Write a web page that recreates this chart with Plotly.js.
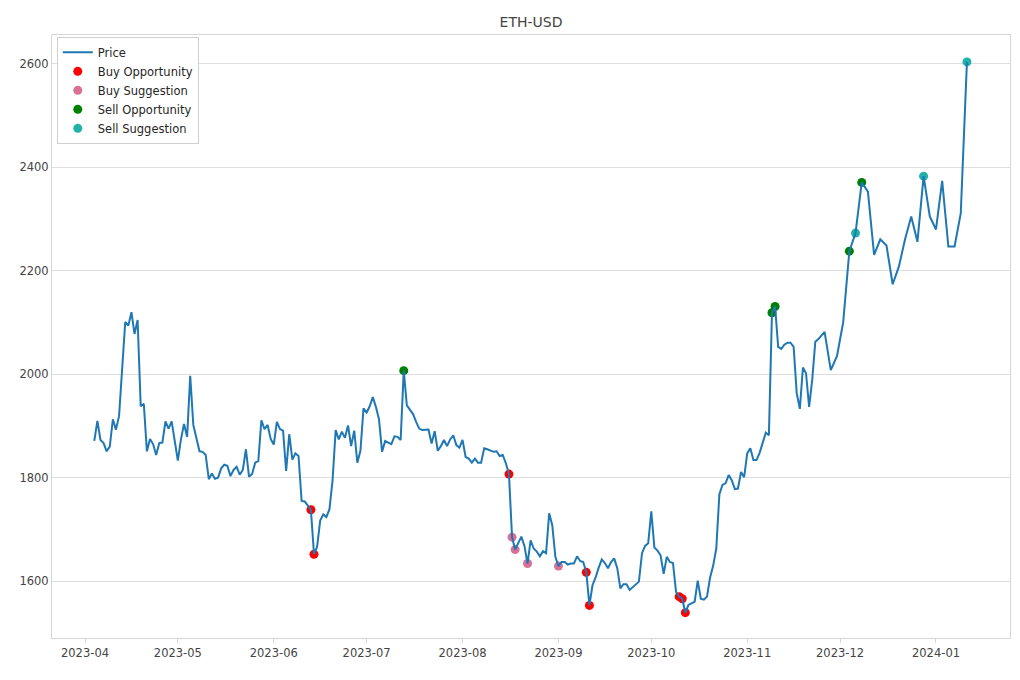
<!DOCTYPE html>
<html>
<head>
<meta charset="utf-8">
<script src="https://cdn.plot.ly/plotly-3.0.1.min.js"></script>
<style>
  html, body { margin: 0; padding: 0; background: #fff; }
  #chart { width: 1020px; height: 680px; }
</style>
</head>
<body>
<div id="chart"></div>
<script>
// ETH-USD close price
const dates = [
  '2023-04-04','2023-04-05','2023-04-06','2023-04-07','2023-04-08','2023-04-09','2023-04-10','2023-04-11','2023-04-12','2023-04-14','2023-04-15','2023-04-16','2023-04-17','2023-04-18','2023-04-19','2023-04-20','2023-04-21','2023-04-22','2023-04-23','2023-04-24','2023-04-25','2023-04-26','2023-04-27','2023-04-28','2023-04-29','2023-04-30',
  '2023-05-01','2023-05-02','2023-05-03','2023-05-04','2023-05-05','2023-05-06','2023-05-07','2023-05-08','2023-05-09','2023-05-10','2023-05-11','2023-05-12','2023-05-13','2023-05-14','2023-05-15','2023-05-16','2023-05-17','2023-05-18','2023-05-19','2023-05-20','2023-05-21','2023-05-22','2023-05-23','2023-05-24','2023-05-25','2023-05-26','2023-05-27','2023-05-28','2023-05-29','2023-05-30','2023-05-31',
  '2023-06-01','2023-06-02','2023-06-03','2023-06-04','2023-06-05','2023-06-06','2023-06-07','2023-06-08','2023-06-09','2023-06-10','2023-06-11','2023-06-12','2023-06-13','2023-06-14','2023-06-15','2023-06-16','2023-06-17','2023-06-18','2023-06-19','2023-06-20','2023-06-21','2023-06-22','2023-06-23','2023-06-24','2023-06-25','2023-06-26','2023-06-27','2023-06-28','2023-06-29','2023-06-30',
  '2023-07-01','2023-07-02','2023-07-03','2023-07-04','2023-07-05','2023-07-06','2023-07-07','2023-07-08','2023-07-09','2023-07-10','2023-07-11','2023-07-12','2023-07-13','2023-07-14','2023-07-15','2023-07-16','2023-07-17','2023-07-18','2023-07-19','2023-07-20','2023-07-21','2023-07-22','2023-07-23','2023-07-24','2023-07-25','2023-07-26','2023-07-27','2023-07-28','2023-07-29','2023-07-30','2023-07-31',
  '2023-08-01','2023-08-02','2023-08-03','2023-08-04','2023-08-05','2023-08-06','2023-08-07','2023-08-08','2023-08-09','2023-08-10','2023-08-11','2023-08-12','2023-08-13','2023-08-14','2023-08-15','2023-08-16','2023-08-17','2023-08-18','2023-08-19','2023-08-20','2023-08-21','2023-08-22','2023-08-23','2023-08-24','2023-08-25','2023-08-26','2023-08-27','2023-08-28','2023-08-29','2023-08-30','2023-08-31',
  '2023-09-01','2023-09-02','2023-09-03','2023-09-04','2023-09-05','2023-09-06','2023-09-07','2023-09-08','2023-09-09','2023-09-10','2023-09-11','2023-09-12','2023-09-13','2023-09-14','2023-09-15','2023-09-16','2023-09-17','2023-09-18','2023-09-19','2023-09-20','2023-09-21','2023-09-22','2023-09-23','2023-09-24','2023-09-25','2023-09-26','2023-09-27','2023-09-28','2023-09-29','2023-09-30',
  '2023-10-01','2023-10-02','2023-10-03','2023-10-04','2023-10-05','2023-10-06','2023-10-07','2023-10-08','2023-10-09','2023-10-10','2023-10-11','2023-10-12','2023-10-13','2023-10-14','2023-10-15','2023-10-16','2023-10-17','2023-10-18','2023-10-19','2023-10-20','2023-10-21','2023-10-22','2023-10-23','2023-10-24','2023-10-25','2023-10-26','2023-10-27','2023-10-28','2023-10-29','2023-10-30','2023-10-31',
  '2023-11-01','2023-11-02','2023-11-03','2023-11-04','2023-11-05','2023-11-06','2023-11-07','2023-11-08','2023-11-09','2023-11-10','2023-11-11','2023-11-12','2023-11-13','2023-11-14','2023-11-15','2023-11-16','2023-11-17','2023-11-18','2023-11-19','2023-11-20','2023-11-21','2023-11-22','2023-11-23','2023-11-24','2023-11-26','2023-11-28','2023-11-30',
  '2023-12-02','2023-12-04','2023-12-06','2023-12-08','2023-12-10','2023-12-12','2023-12-14','2023-12-16','2023-12-18','2023-12-20','2023-12-22','2023-12-24','2023-12-26','2023-12-28','2023-12-30',
  '2024-01-01','2024-01-03','2024-01-05','2024-01-07','2024-01-09','2024-01-11'
];

const price = [
  1871,1910,1873,1867,1851,1860,1913,1893,1919,2101,2094,2120,2078,2105,1938,1943,1851,1875,1865,1844,1867,1868,1909,1895,1909,1869,
  1833,1874,1904,1879,1997,1902,1876,1851,1850,1844,1797,1808,1798,1800,1818,1825,1823,1803,1815,1821,1806,1815,1855,1802,1807,1829,1832,1911,1894,1902,1875,
  1864,1908,1894,1891,1813,1884,1835,1847,1842,1755,1754,1746,1738,1652,1666,1717,1729,1724,1739,1795,1892,1874,1889,1877,1901,1861,1891,1829,1852,1934,
  1926,1938,1956,1937,1913,1850,1871,1868,1865,1880,1879,1873,2007,1940,1932,1923,1908,1895,1892,1893,1893,1866,1890,1852,1861,1873,1861,1874,1882,1863,1858,
  1873,1840,1837,1829,1837,1829,1829,1857,1855,1852,1850,1851,1842,1844,1828,1807,1685,1661,1674,1686,1668,1634,1679,1663,1657,1648,1658,1654,1731,1708,1647,
  1629,1637,1637,1632,1634,1634,1648,1639,1637,1617,1553,1592,1607,1626,1642,1635,1625,1637,1644,1625,1586,1594,1594,1583,1589,1594,1599,1654,1668,1673,
  1735,1665,1659,1650,1614,1647,1637,1635,1579,1570,1566,1539,1554,1557,1560,1601,1566,1564,1570,1607,1630,1663,1768,1786,1789,1805,1795,1778,1779,1811,1801,
  1847,1857,1834,1834,1848,1866,1887,1882,2119,2131,2053,2049,2057,2061,2061,2053,1963,1933,2013,2002,1937,1989,2063,2068,2082,2008,2035,
  2100,2238,2273,2371,2353,2231,2261,2249,2174,2208,2261,2305,2256,2383,2305,
  2280,2374,2247,2247,2311,2604
];

// signal days
const buyOpportunity = ['2023-06-13','2023-06-14','2023-08-16','2023-09-10','2023-09-11','2023-10-10','2023-10-11','2023-10-12'];
const buySuggestion = ['2023-08-17','2023-08-18','2023-08-22','2023-09-01'];
const sellOpportunity = ['2023-07-13','2023-11-09','2023-11-10','2023-12-04','2023-12-08'];
const sellSuggestion = ['2023-12-06','2023-12-28','2024-01-11'];

function priceOn(days) {
    return days.map(d => price[dates.indexOf(d)]);
}

function signalTrace(days, name, color, rank) {
    return {
        x: days,
        y: priceOn(days),
        name: name,
        type: 'scatter',
        mode: 'markers',
        marker: {color: color, size: 9},
        legendrank: rank
    };
}

const priceTrace = {
    x: dates,
    y: price,
    name: 'Price',
    type: 'scatter',
    mode: 'lines',
    line: {color: '#1f77b4', width: 2},
    legendrank: 1
};

// markers first so the price line sits on top of them
const traces = [
    signalTrace(buyOpportunity, 'Buy Opportunity', '#ff0000', 2),
    signalTrace(buySuggestion, 'Buy Suggestion', '#db7093', 3),
    signalTrace(sellOpportunity, 'Sell Opportunity', '#008000', 4),
    signalTrace(sellSuggestion, 'Sell Suggestion', '#20b2aa', 5),
    priceTrace
];

const layout = {
    width: 1020,
    height: 680,
    margin: {l: 52, r: 10, t: 35, b: 42},
    paper_bgcolor: '#ffffff',
    plot_bgcolor: '#ffffff',
    font: {family: 'DejaVu Sans, sans-serif', size: 11.5, color: '#444'},
    title: {
        text: 'ETH-USD',
        font: {size: 14, color: '#444'},
        x: 0.5, xref: 'paper',
        y: 1 - 22 / 680, yref: 'container', yanchor: 'middle'
    },
    showlegend: true,
    legend: {
        x: 0.005, y: 0.997, xanchor: 'left', yanchor: 'top',
        bgcolor: '#ffffff', bordercolor: '#d0d0d0', borderwidth: 1,
        font: {size: 11.5, color: '#262626'},
        traceorder: 'normal'
    },
    xaxis: {
        type: 'date',
        range: ['2023-03-21 08:00', '2024-01-24 22:00'],
        tick0: '2023-04-01',
        dtick: 'M1',
        tickformat: '%Y-%m',
        showgrid: false,
        zeroline: false,
        showline: true,
        mirror: true,
        linecolor: '#d6d6d6',
        linewidth: 1,
        ticks: 'outside',
        ticklen: 4,
        tickcolor: '#d6d6d6',
        tickfont: {size: 11.5, color: '#444'}
    },
    yaxis: {
        range: [1490, 2656],
        tick0: 1600,
        dtick: 200,
        showgrid: true,
        gridcolor: '#dedede',
        gridwidth: 1,
        zeroline: false,
        showline: true,
        mirror: true,
        linecolor: '#d6d6d6',
        linewidth: 1,
        ticks: '',
        tickfont: {size: 11.5, color: '#444'}
    }
};

Plotly.newPlot('chart', traces, layout, {displayModeBar: false, responsive: false});
</script>
</body>
</html>
